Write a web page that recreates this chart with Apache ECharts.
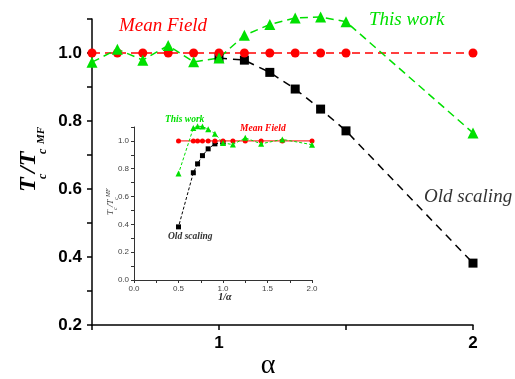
<!DOCTYPE html>
<html>
<head>
<meta charset="utf-8">
<script src="https://cdn.jsdelivr.net/npm/echarts@6/dist/echarts.min.js"></script>
<style>
  html, body { margin: 0; padding: 0; background: #fff; }
  #chart { width: 515px; height: 379px; }
</style>
</head>
<body>
<div id="chart"></div>
<script>
// alpha values of the simulations
const alpha = [0.5, 0.6, 0.7, 0.8, 0.9, 1.0, 1.1, 1.2, 1.3, 1.4, 1.5, 2.0]
const meanField = [1, 1, 1, 1, 1, 1, 1, 1, 1, 1, 1, 1]
const thisWork = [0.973, 1.011, 0.979, 1.022, 0.974, 0.985, 1.052, 1.084, 1.103, 1.106, 1.092, 0.765]
// old scaling only differs from alpha = 1 on
const oldAlpha = [1.0, 1.1, 1.2, 1.3, 1.4, 1.5, 2.0]
const oldScaling = [0.985, 0.979, 0.943, 0.894, 0.835, 0.771, 0.382]

const mainYTicks = ['0.2', '0.4', '0.6', '0.8', '1.0']
const mainXTicks = ['1', '2']
const insetXTicks = ['0.0', '0.5', '1.0', '1.5', '2.0']
const insetYTicks = ['0.0', '0.2', '0.4', '0.6', '0.8', '1.0']

const RED = '#ff0000'
const GREEN = '#00e000'
const SERIF = '"Liberation Serif", "DejaVu Serif", serif'
const SANS = '"Liberation Sans", Arial, sans-serif'

const pairs = (xs, ys) => xs.map((x, i) => [x, ys[i]])
// inset is plotted against 1/alpha
const inv = (xs, ys) => xs.map((x, i) => [1 / x, ys[i]])

const chart = echarts.init(document.getElementById('chart'))

const mainAxisLine = { lineStyle: { color: '#000', width: 1.5 } }
const insetAxisLine = { lineStyle: { color: '#333', width: 1 } }

const option = {
  animation: false,
  backgroundColor: '#fff',
  grid: [
    { left: 92, right: 42, top: 19, bottom: 54 },
    { left: 134, top: 127, width: 178, height: 153 }
  ],
  xAxis: [
    {
      gridIndex: 0, type: 'value', min: 0.5, max: 2, interval: 0.5,
      axisLine: mainAxisLine,
      axisTick: { length: 5, lineStyle: { color: '#000', width: 1.5 } },
      splitLine: { show: false },
      axisLabel: {
        margin: 10, color: '#000', fontFamily: SANS, fontWeight: 'bold', fontSize: 17,
        formatter: v => {
          const s = String(Math.round(v * 10) / 10)
          return mainXTicks.includes(s) ? s : ''
        }
      }
    },
    {
      gridIndex: 1, type: 'value', min: 0, max: 2, interval: 0.25,
      axisLine: insetAxisLine,
      axisTick: { length: 3, lineStyle: { color: '#333' } },
      splitLine: { show: false },
      axisLabel: {
        margin: 5, color: '#444', fontFamily: SANS, fontSize: 8,
        formatter: v => {
          const s = v.toFixed(1)
          return insetXTicks.includes(s) && Math.abs(v * 2 - Math.round(v * 2)) < 1e-6 ? s : ''
        }
      }
    }
  ],
  yAxis: [
    {
      gridIndex: 0, type: 'value', min: 0.2, max: 1.1, interval: 0.1,
      axisLine: { show: true, ...mainAxisLine },
      axisTick: { show: true, length: 5, lineStyle: { color: '#000', width: 1.5 } },
      splitLine: { show: false },
      axisLabel: {
        margin: 10, color: '#000', fontFamily: SANS, fontWeight: 'bold', fontSize: 17,
        formatter: v => {
          const s = v.toFixed(1)
          return mainYTicks.includes(s) ? s : ''
        }
      }
    },
    {
      gridIndex: 1, type: 'value', min: 0, max: 1.1, interval: 0.1,
      axisLine: { show: true, ...insetAxisLine },
      axisTick: { show: true, length: 3, lineStyle: { color: '#333' } },
      splitLine: { show: false },
      axisLabel: {
        margin: 5, color: '#444', fontFamily: SANS, fontSize: 8,
        formatter: v => {
          const s = v.toFixed(1)
          return insetYTicks.includes(s) ? s : ''
        }
      }
    }
  ],
  series: [
    // 主图
    {
      name: 'Old scaling', type: 'line', xAxisIndex: 0, yAxisIndex: 0, clip: false,
      data: pairs(oldAlpha, oldScaling),
      symbol: 'rect', symbolSize: 9,
      itemStyle: { color: '#000' },
      lineStyle: { color: '#000', width: 1.5, type: [8, 6] }
    },
    {
      name: 'Mean Field', type: 'line', xAxisIndex: 0, yAxisIndex: 0, clip: false,
      data: pairs(alpha, meanField),
      symbol: 'circle', symbolSize: 9,
      itemStyle: { color: RED },
      lineStyle: { color: RED, width: 1.5, type: [8, 5] }
    },
    {
      name: 'This work', type: 'line', xAxisIndex: 0, yAxisIndex: 0, clip: false,
      data: pairs(alpha, thisWork),
      symbol: 'triangle', symbolSize: 11,
      itemStyle: { color: GREEN },
      lineStyle: { color: GREEN, width: 1.5, type: [8, 5] }
    },
    // 插图 (1/alpha)
    {
      type: 'line', xAxisIndex: 1, yAxisIndex: 1, clip: false,
      data: inv(oldAlpha, oldScaling),
      symbol: 'rect', symbolSize: 5,
      itemStyle: { color: '#000' },
      lineStyle: { color: '#000', width: 1, type: [3, 2] }
    },
    {
      type: 'line', xAxisIndex: 1, yAxisIndex: 1, clip: false,
      data: inv(alpha, meanField),
      symbol: 'circle', symbolSize: 5,
      itemStyle: { color: RED },
      lineStyle: { color: RED, width: 1 }
    },
    {
      type: 'line', xAxisIndex: 1, yAxisIndex: 1, clip: false,
      data: inv(alpha, thisWork),
      symbol: 'triangle', symbolSize: 6,
      itemStyle: { color: GREEN },
      lineStyle: { color: GREEN, width: 1, type: [3, 2] }
    }
  ],
  graphic: [
    // labels in the main plot
    { type: 'text', x: 119, y: 26, style: { text: 'Mean Field', font: 'italic 19px ' + SERIF, fill: RED, verticalAlign: 'middle' } },
    { type: 'text', x: 369, y: 20, style: { text: 'This work', font: 'italic 19px ' + SERIF, fill: GREEN, verticalAlign: 'middle' } },
    { type: 'text', x: 424, y: 197, style: { text: 'Old scaling', font: 'italic 19px ' + SERIF, fill: '#333', verticalAlign: 'middle' } },
    // labels in the inset
    { type: 'text', x: 165, y: 120, style: { text: 'This work', font: 'italic bold 9.5px ' + SERIF, fill: GREEN, verticalAlign: 'middle' } },
    { type: 'text', x: 240, y: 129, style: { text: 'Mean Field', font: 'italic bold 9.5px ' + SERIF, fill: RED, verticalAlign: 'middle' } },
    { type: 'text', x: 168, y: 237, style: { text: 'Old scaling', font: 'italic bold 9.5px ' + SERIF, fill: '#333', verticalAlign: 'middle' } },
    // axis names
    { type: 'text', x: 268, y: 366, style: { text: 'α', font: '28px ' + SERIF, fill: '#000', align: 'center', verticalAlign: 'middle' } },
    { type: 'text', x: 225, y: 297, style: { text: '1/α', font: 'italic bold 10px ' + SERIF, fill: '#222', align: 'center', verticalAlign: 'middle' } },
    {
      type: 'group', x: 29, y: 192, rotation: Math.PI / 2,
      children: [
        { type: 'text', x: 0, y: 0, style: { text: 'T', font: 'italic bold 24px ' + SERIF, fill: '#000', verticalAlign: 'middle' } },
        { type: 'text', x: 13, y: 14, style: { text: 'c', font: 'italic bold 12px ' + SERIF, fill: '#000', verticalAlign: 'middle' } },
        { type: 'text', x: 19, y: 0, style: { text: '/T', font: 'italic bold 24px ' + SERIF, fill: '#000', verticalAlign: 'middle' } },
        { type: 'text', x: 38, y: 14, style: { text: 'c', font: 'italic bold 12px ' + SERIF, fill: '#000', verticalAlign: 'middle' } },
        { type: 'text', x: 48, y: 12, style: { text: 'MF', font: 'italic bold 11px ' + SERIF, fill: '#000', verticalAlign: 'middle' } }
      ]
    },
    {
      type: 'group', x: 111, y: 215, rotation: Math.PI / 2,
      children: [
        { type: 'text', x: 0, y: 0, style: { text: 'T', font: 'italic 9px ' + SERIF, fill: '#333', verticalAlign: 'middle' } },
        { type: 'text', x: 5, y: 4, style: { text: 'c', font: 'italic 6px ' + SERIF, fill: '#333', verticalAlign: 'middle' } },
        { type: 'text', x: 8, y: 0, style: { text: '/T', font: 'italic 9px ' + SERIF, fill: '#333', verticalAlign: 'middle' } },
        { type: 'text', x: 15, y: 5, style: { text: 'c', font: 'italic 6px ' + SERIF, fill: '#333', verticalAlign: 'middle' } },
        { type: 'text', x: 18, y: -3, style: { text: 'MF', font: 'italic 6px ' + SERIF, fill: '#333', verticalAlign: 'middle' } }
      ]
    }
  ]
}

chart.setOption(option)
</script>
</body>
</html>
